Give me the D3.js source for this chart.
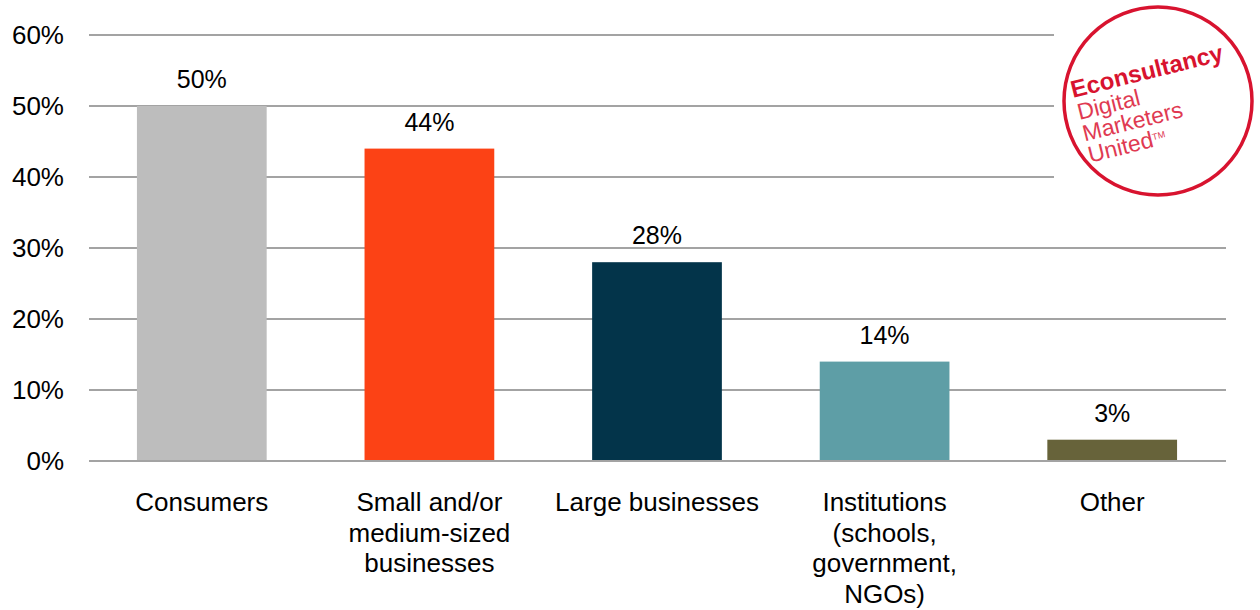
<!DOCTYPE html>
<html>
<head>
<meta charset="utf-8">
<script src="https://cdn.jsdelivr.net/npm/d3@7"></script>
<style>
  body { margin: 0; background: #fff; }
  svg text { font-family: "Liberation Sans", Arial, sans-serif; fill: #000; }
</style>
</head>
<body>
<div id="chart"></div>
<script>
// chart data
var categories = ["Consumers", "Small and/or medium-sized businesses", "Large businesses", "Institutions (schools, government, NGOs)", "Other"];
var categoryLines = [
  ["Consumers"],
  ["Small and/or", "medium-sized", "businesses"],
  ["Large businesses"],
  ["Institutions", "(schools,", "government,", "NGOs)"],
  ["Other"]
];
var values = [0.50, 0.44, 0.28, 0.14, 0.03];
var barColors = ["#bdbdbd", "#fc4215", "#03344a", "#5e9ea6", "#67633a"];
var yTicks = [0, 0.1, 0.2, 0.3, 0.4, 0.5, 0.6];

var width = 1260,
    height = 610;

var svg = d3.select("#chart").append("svg")
  .attr("width", width)
  .attr("height", height);

// scales
var x = d3.scaleBand()
  .domain(categories)
  .range([88, 1226])
  .paddingInner(0.43)
  .paddingOuter(0.215);

var y = d3.scaleLinear()
  .domain([0, 0.6])
  .range([461, 35]);

var pct = d3.format(".0%");

// gridlines
svg.append("g")
  .selectAll("line")
  .data(yTicks).enter()
  .append("line")
  .attr("x1", 89)
  .attr("x2", 1226)
  .attr("y1", function(d) { return y(d); })
  .attr("y2", function(d) { return y(d); })
  .attr("stroke", "#a3a3a3")
  .attr("stroke-width", 2);

// y tick labels
svg.append("g")
  .selectAll("text")
  .data(yTicks).enter()
  .append("text")
  .attr("x", 64)
  .attr("y", function(d) { return y(d); })
  .attr("dy", "0.36em")
  .attr("text-anchor", "end")
  .style("font-size", "26px")
  .text(function(d) { return pct(d); });

// bars
svg.append("g")
  .selectAll("rect")
  .data(values).enter()
  .append("rect")
  .attr("x", function(d, i) { return x(categories[i]); })
  .attr("y", function(d) { return y(d); })
  .attr("width", x.bandwidth())
  .attr("height", function(d) { return y(0) - y(d); })
  .attr("fill", function(d, i) { return barColors[i]; });

// baseline drawn over bars
svg.append("line")
  .attr("x1", 89).attr("x2", 1226)
  .attr("y1", y(0)).attr("y2", y(0))
  .attr("stroke", "#a3a3a3")
  .attr("stroke-width", 2);

// value labels
svg.append("g")
  .selectAll("text")
  .data(values).enter()
  .append("text")
  .attr("x", function(d, i) { return x(categories[i]) + x.bandwidth() / 2; })
  .attr("y", function(d) { return y(d) - 18; })
  .attr("text-anchor", "middle")
  .style("font-size", "25px")
  .text(function(d) { return pct(d); });

// category labels
var catLabels = svg.append("g")
  .selectAll("text")
  .data(categoryLines).enter()
  .append("text")
  .attr("text-anchor", "middle")
  .attr("x", function(d, i) { return x(categories[i]) + x.bandwidth() / 2; })
  .attr("y", 511)
  .style("font-size", "26px");

catLabels.each(function(lines, i) {
  var t = d3.select(this);
  lines.forEach(function(line, j) {
    t.append("tspan")
      .attr("x", x(categories[i]) + x.bandwidth() / 2)
      .attr("y", 511 + j * 30.5)
      .text(line);
  });
});

// logo
var logo = svg.append("g");
logo.append("rect")
  .attr("x", 1054).attr("y", 0)
  .attr("width", 206).attr("height", 200)
  .attr("fill", "#fff");
logo.append("circle")
  .attr("cx", 1158).attr("cy", 101).attr("r", 94)
  .attr("fill", "#fff")
  .attr("stroke", "#d8132f")
  .attr("stroke-width", 3.5);

var logoText = logo.append("g")
  .attr("transform", "translate(1073,98) rotate(-14)");
logoText.append("text")
  .attr("x", 0).attr("y", 0)
  .style("font-size", "24px")
  .style("font-weight", "bold")
  .style("fill", "#d8132f")
  .text("Econsultancy");
var logoLines = ["Digital", "Marketers", "United"];
logoLines.forEach(function(s, j) {
  var t = logoText.append("text")
    .attr("x", 1).attr("y", 23 + j * 22)
    .style("font-size", "23px")
    .style("fill", "#e03a52")
    .text(s);
  if (j == 2) {
    t.append("tspan")
      .attr("dy", "-0.75em")
      .style("font-size", "9px")
      .text("TM");
  }
});
</script>
</body>
</html>
